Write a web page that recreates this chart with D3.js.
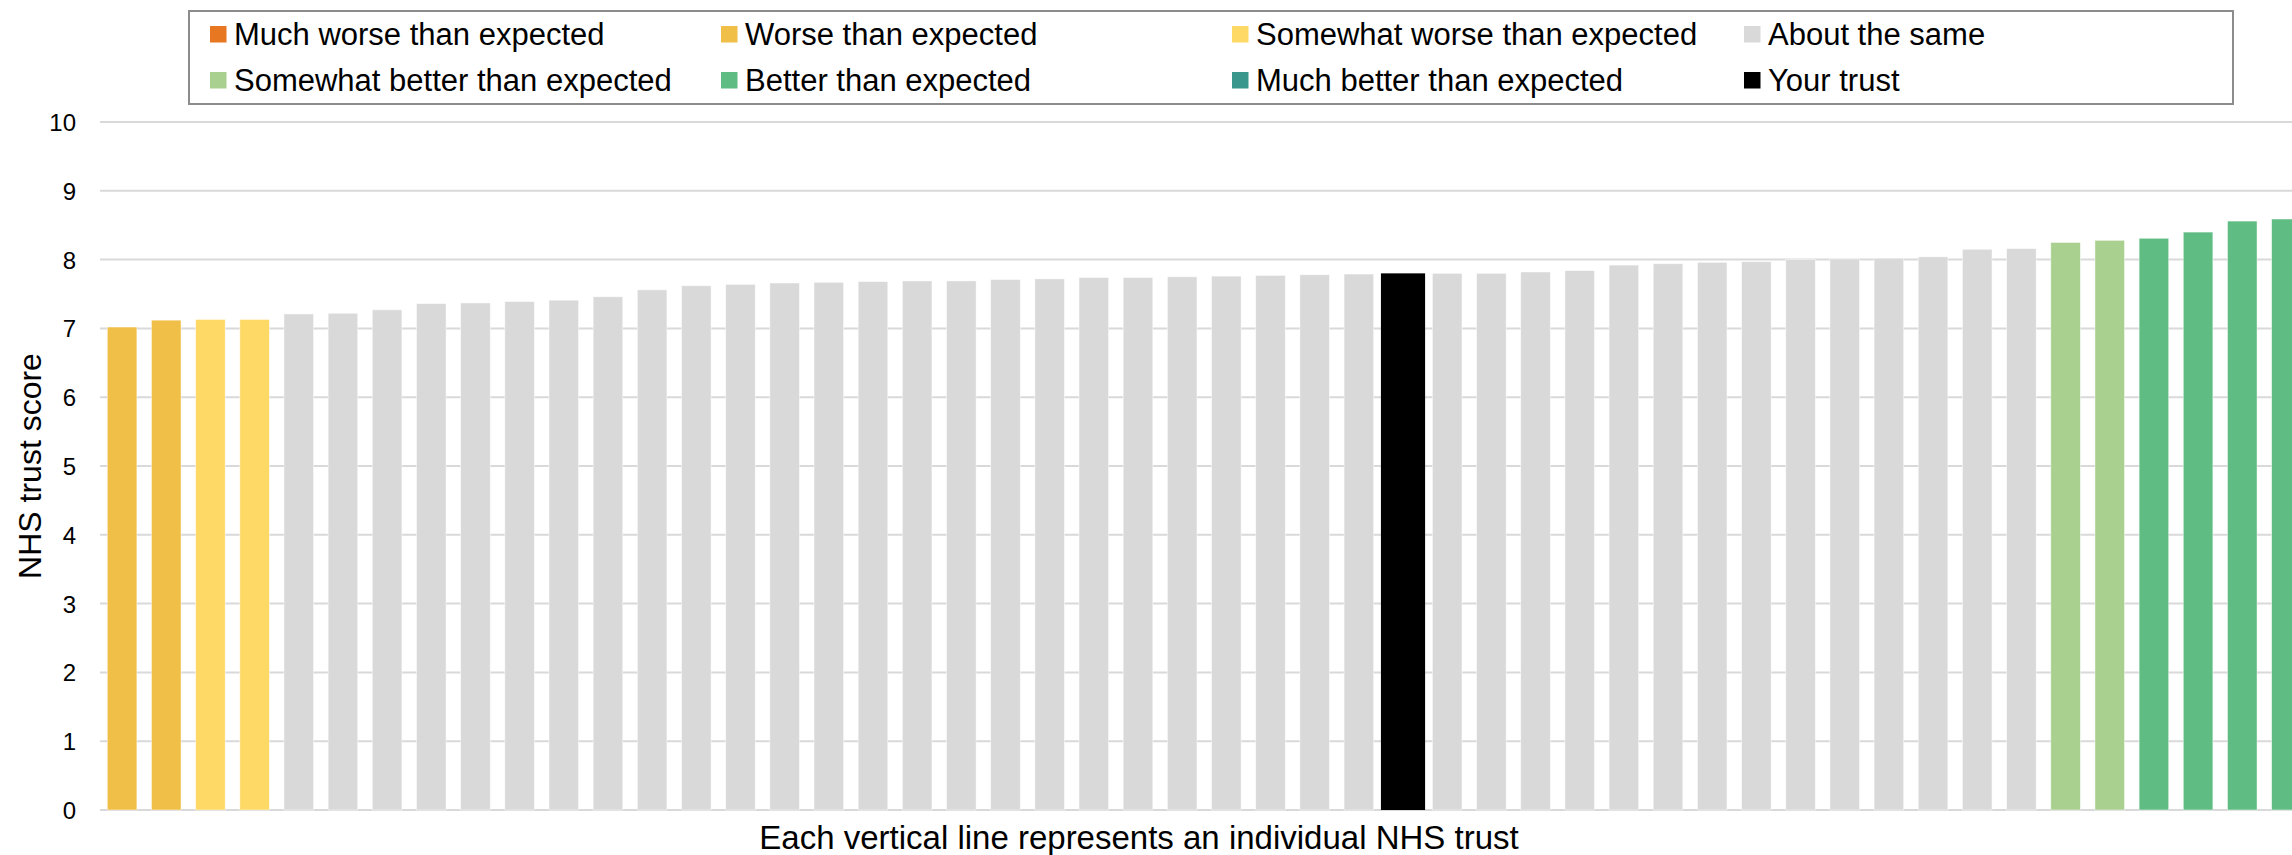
<!DOCTYPE html>
<html>
<head>
<meta charset="utf-8">
<script src="https://cdn.jsdelivr.net/npm/d3@7"></script>
<style>
  html, body { margin: 0; padding: 0; background: #fff; overflow: hidden; }
  text { font-family: "Liberation Sans", Arial, sans-serif; }
</style>
</head>
<body>
<svg id="chart" width="2292" height="855"></svg>
<script>
// ---- data ----
const scores = [7.02, 7.12, 7.13, 7.13, 7.21, 7.22, 7.27, 7.36, 7.37, 7.39,
                7.41, 7.46, 7.56, 7.62, 7.64, 7.66, 7.67, 7.68, 7.69, 7.69,
                7.71, 7.72, 7.74, 7.74, 7.75, 7.76, 7.77, 7.78, 7.79, 7.80,
                7.80, 7.80, 7.82, 7.84, 7.92, 7.94, 7.96, 7.97, 8.00, 8.01,
                8.02, 8.04, 8.15, 8.16, 8.25, 8.28, 8.31, 8.40, 8.56, 8.59];

const W = "Worse than expected", SW = "Somewhat worse than expected", AS = "About the same",
      SB = "Somewhat better than expected", B = "Better than expected", YT = "Your trust";
const groups = [W, W, SW, SW, AS, AS, AS, AS, AS, AS,
                AS, AS, AS, AS, AS, AS, AS, AS, AS, AS,
                AS, AS, AS, AS, AS, AS, AS, AS, AS, YT,
                AS, AS, AS, AS, AS, AS, AS, AS, AS, AS,
                AS, AS, AS, AS, SB, SB, B, B, B, B];

const legendLabels = ["Much worse than expected", "Worse than expected", "Somewhat worse than expected", "About the same",
                      "Somewhat better than expected", "Better than expected", "Much better than expected", "Your trust"];
const yTicks = [0, 1, 2, 3, 4, 5, 6, 7, 8, 9, 10];
const yTitle = "NHS trust score";
const xTitle = "Each vertical line represents an individual NHS trust";

// ---- styles ----
const colors = {
  "Much worse than expected": "#E87722",
  "Worse than expected": "#F0BF48",
  "Somewhat worse than expected": "#FED966",
  "About the same": "#D9D9D9",
  "Somewhat better than expected": "#A9D08E",
  "Better than expected": "#5FBC83",
  "Much better than expected": "#3A978B",
  "Your trust": "#000000"
};

const svg = d3.select("#chart");
const idx = scores.map((_, i) => i);
const step = 44.17;
const left = 100;

const x = d3.scaleBand().domain(idx).range([left, left + step * scores.length])
  .paddingInner(0.33).paddingOuter(0.165);
const xWide = d3.scaleBand().domain(idx).range([left, left + step * scores.length]).padding(0);
const y = d3.scaleLinear().domain([0, 10]).range([810, 122]);

// gridlines
svg.append("g").selectAll("line").data(yTicks).join("line")
  .attr("x1", left).attr("x2", 2292)
  .attr("y1", d => y(d)).attr("y2", d => y(d))
  .attr("stroke", "#D9D9D9").attr("stroke-width", 2);

// y axis labels
const yAxis = d3.axisLeft(y).tickValues(yTicks).tickSize(0).tickPadding(0).tickFormat(d3.format("d"));
const ya = svg.append("g").attr("transform", "translate(76,0)").call(yAxis);
ya.select(".domain").remove();
ya.selectAll("text").attr("font-size", 24).attr("fill", "#000")
  .attr("font-family", "'Liberation Sans', Arial, sans-serif").attr("dy", "0.35em");

// bars
const data = idx.map(i => ({ i, v: scores[i], g: groups[i] }));
svg.append("g").selectAll("rect").data(data.filter(d => d.g !== YT)).join("rect")
  .attr("x", d => x(d.i)).attr("width", x.bandwidth())
  .attr("y", d => y(d.v)).attr("height", d => y(0) - y(d.v))
  .attr("fill", d => colors[d.g])
  .attr("stroke", "#ffffff").attr("stroke-width", 0.8).attr("stroke-opacity", 0.6);

svg.append("g").selectAll("rect").data(data.filter(d => d.g === YT)).join("rect")
  .attr("x", d => xWide(d.i)).attr("width", xWide.bandwidth())
  .attr("y", d => y(d.v)).attr("height", d => y(0) - y(d.v))
  .attr("fill", colors[YT]);

// axis titles
svg.append("text").attr("transform", "translate(41,466) rotate(-90)")
  .attr("text-anchor", "middle").attr("font-size", 32).attr("fill", "#000").text(yTitle);
svg.append("text").attr("x", 1139).attr("y", 849)
  .attr("text-anchor", "middle").attr("font-size", 33).attr("fill", "#000").text(xTitle);

// legend
const lg = svg.append("g");
lg.append("rect").attr("x", 189).attr("y", 11).attr("width", 2044).attr("height", 93)
  .attr("fill", "#fff").attr("stroke", "#8c8c8c").attr("stroke-width", 2);
const colX = [210, 721, 1232, 1744];
const rowY = [26, 72];
const items = lg.selectAll("g.item").data(legendLabels).join("g").attr("class", "item")
  .attr("transform", (d, i) => `translate(${colX[i % 4]},${rowY[Math.floor(i / 4)]})`);
items.append("rect").attr("width", 16.5).attr("height", 16.5).attr("fill", d => colors[d]);
items.append("text").attr("x", 24).attr("y", 19).attr("font-size", 31).attr("fill", "#000").text(d => d);
</script>
</body>
</html>
